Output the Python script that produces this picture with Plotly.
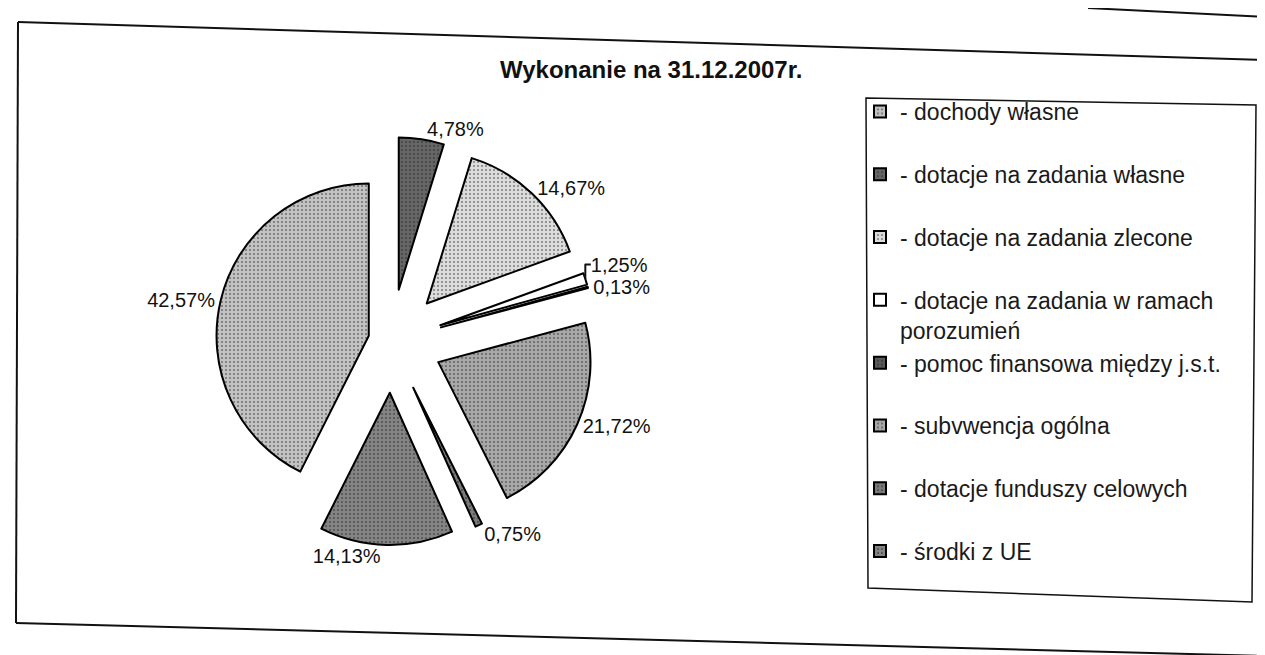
import plotly.graph_objects as go

# ---- data ----
categories = [
    "dochody własne",
    "dotacje na zadania własne",
    "dotacje na zadania zlecone",
    "dotacje na zadania w ramach porozumień",
    "pomoc finansowa między j.s.t.",
    "subvwencja ogólna",
    "dotacje funduszy celowych",
    "środki z UE",
]
shares = [42.57, 4.78, 14.67, 1.25, 0.13, 21.72, 0.75, 14.13]
title_text = "Wykonanie na 31.12.2007r."

# ---- styles ----
fills = ["#c2c2c2", "#666666", "#dcdcdc", "#ffffff", "#5a5a5a", "#a8a8a8", "#7a7a7a", "#848484"]
pattern_shapes = [".", ".", ".", "", ".", ".", ".", "."]
pulls = [0.15, 0.34, 0.34, 0.34, 0.34, 0.34, 0.34, 0.34]
FONT = "Liberation Sans, Arial, sans-serif"

W, H = 1265, 655


def px(x, y):
    return x / W, 1 - y / H


legend_labels = []
for c in categories:
    if c.endswith(" porozumień"):
        legend_labels.append("- " + c.replace(" porozumień", "<br>porozumień"))
    else:
        legend_labels.append("- " + c + "<br>\u00a0")

# pie domain (pixel box converted to paper fractions)
x0, y0 = px(179, 537)
x1, y1 = px(587, 129)

fig = go.Figure(
    go.Pie(
        labels=legend_labels,
        values=shares,
        sort=False,
        direction="clockwise",
        rotation=206.75,
        pull=pulls,
        hole=0,
        domain=dict(x=[x0, x1], y=[y0, y1]),
        marker=dict(
            colors=fills,
            line=dict(color="#000000", width=2),
            pattern=dict(shape=pattern_shapes, fillmode="overlay",
                         fgcolor="#1a1a1a", size=4, solidity=0.2),
        ),
        texttemplate="%{percent:.2%}",
        textposition="outside",
        textfont=dict(family=FONT, size=20, color="#111111"),
        automargin=False,
        hoverinfo="label+percent",
    )
)

# frame lines (scanned page border, slightly skewed)
frame = [
    ((10, 14), (1257, 52)),   # top
    ((10, 14), (8, 615)),     # left
    ((8, 615), (1255, 648)),  # bottom
    ((1257, 52), (1255, 648)),  # right
    ((1080, 0), (1257, 9)),   # fragment of box above
    ((1257, 0), (1257, 9)),
]
shapes = []
for (a, b) in frame:
    ax, ay = px(*a)
    bx, by = px(*b)
    shapes.append(dict(type="line", xref="paper", yref="paper",
                       x0=ax, y0=ay, x1=bx, y1=by,
                       line=dict(color="#111111", width=2)))

# legend box
lb = [(858, 90), (1248, 97), (1244, 594), (860, 580)]
path = "M " + " L ".join(f"{px(x, y)[0]:.5f},{px(x, y)[1]:.5f}" for x, y in lb) + " Z"
shapes.append(dict(type="path", xref="paper", yref="paper", path=path,
                   line=dict(color="#111111", width=1.5)))

lx, ly = px(852, 82)
tx, ty = px(643, 62)

fig.update_layout(
    width=W, height=H,
    margin=dict(l=0, r=0, t=0, b=0),
    paper_bgcolor="white",
    plot_bgcolor="white",
    separators=", ",
    font=dict(family=FONT, color="#111111"),
    shapes=shapes,
    showlegend=True,
    legend=dict(
        x=lx, y=ly, xanchor="left", yanchor="top",
        bgcolor="rgba(0,0,0,0)", borderwidth=0,
        valign="top",
        font=dict(family=FONT, size=23, color="#1a1a1a"),
        traceorder="normal",
    ),
    annotations=[
        dict(text="<b>" + title_text + "</b>", x=tx, y=ty, xref="paper", yref="paper",
             xanchor="center", yanchor="middle", showarrow=False,
             font=dict(family=FONT, size=24, color="#111111")),
    ],
)

fig.write_html("out.html")
